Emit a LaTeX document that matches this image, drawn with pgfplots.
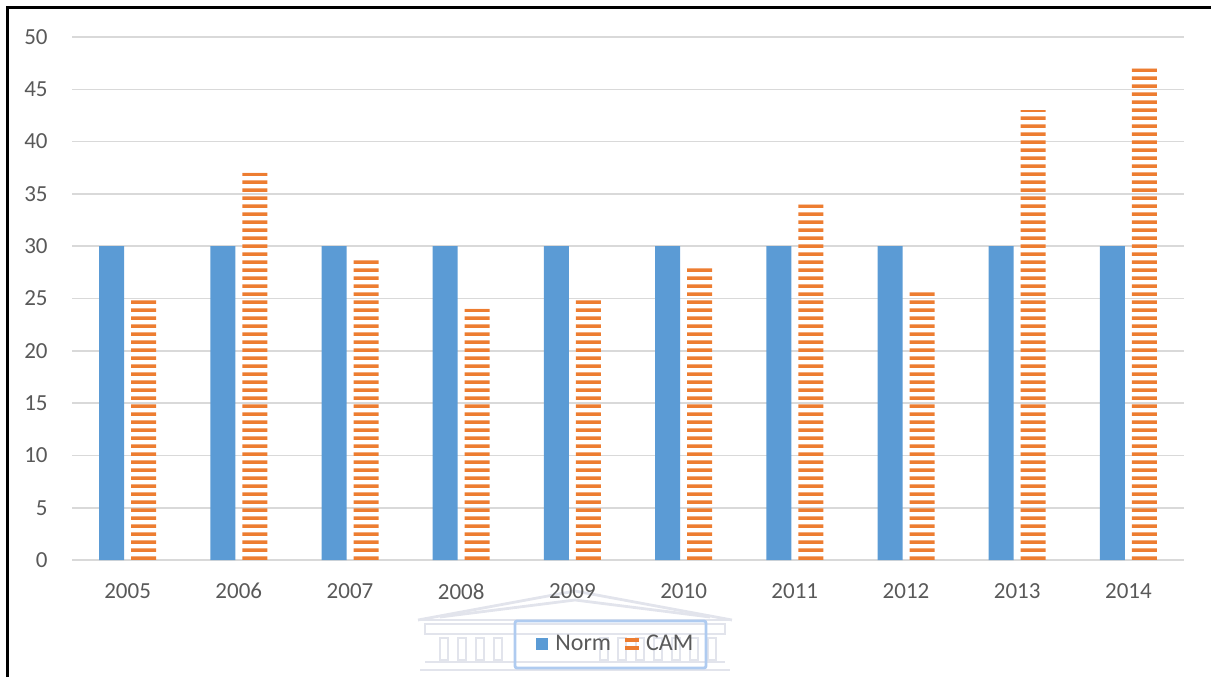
\documentclass[border=0pt]{standalone}
\usepackage{pgfplots}
\pgfplotsset{compat=1.18}
\usepackage{fontspec}
\setmainfont{Carlito}
\usetikzlibrary{patterns}
\definecolor{normblue}{RGB}{91,155,213}
\definecolor{camorange}{RGB}{237,125,49}
\definecolor{gridgrey}{RGB}{217,217,217}
\definecolor{txtgrey}{RGB}{89,89,89}
\definecolor{wmgrey}{RGB}{226,228,236}
\definecolor{lgblue}{RGB}{175,203,240}
\pgfdeclarepatternformonly{hstripes}{\pgfqpoint{0pt}{0pt}}{\pgfqpoint{55.6pt}{4.23pt}}{\pgfqpoint{55.6pt}{4.23pt}}{%
  \pgfpathrectangle{\pgfqpoint{0pt}{0pt}}{\pgfqpoint{55.6pt}{1.95pt}}\pgfusepath{fill}}
\pgfplotstableread{
x norm cam
0 30 25
1 30 37
2 30 29
3 30 24
4 30 25
5 30 28
6 30 34
7 30 26
8 30 43
9 30 47
}\datatable
\begin{document}
\begin{tikzpicture}
\useasboundingbox (0,0) rectangle (605.5pt,338.5pt);
\begin{scope}[x=0.5pt,y=-0.5pt,shift={(0,338.5pt)}]
  % frame
  \draw[black,line width=1.3pt] (7.5,677) -- (7.5,7.5) -- (1211,7.5);
  % faint watermark
  \begin{scope}[draw=wmgrey,line width=1.4pt]
    \draw (418,620) -- (575,591) -- (732,620);
    \draw (440,617) -- (575,600) -- (710,617);
    \draw (418,620) -- (732,620);
    \draw (425,624) rectangle (725,634);
    \foreach \cx in {440,458,476,494,600,618,636,654,672,690,708}{
      \draw (\cx,638) rectangle (\cx+8,660);
    }
    \draw (425,662) -- (725,662);
    \draw (420,670) -- (730,670);
  \end{scope}
  % legend box
  \draw[lgblue,line width=1.4pt,rounded corners=1pt] (515,621) rectangle (706,668);
\end{scope}
\begin{axis}[
  at={(36pt,58.5pt)}, anchor=south west,
  scale only axis, width=556pt, height=261.5pt,
  ymin=0, ymax=50, ytick={0,5,...,50},
  xmin=-0.5, xmax=9.5, xtick=data,
  xticklabels={2005,2006,2007,2008,2009,2010,2011,2012,2013,2014},
  axis line style={draw=none},
  major tick length=0pt,
  tick style={draw=none},
  ymajorgrids, grid style={gridgrey,line width=0.8pt},
  ticklabel style={font=\fontsize{11.5}{13}\selectfont, text=txtgrey},
  yticklabel style={anchor=east, inner sep=0pt, xshift=-12pt},
  xticklabel style={anchor=north, inner sep=0pt, yshift=-11.5pt},
  /pgf/number format/assume math mode=true,
  ybar, bar width=12.5pt,
  legend style={at={(0.490,-0.1606)}, anchor=center, draw=none, fill=none,
    legend columns=2, font=\fontsize{12}{14}\selectfont, text=txtgrey,
    /tikz/every odd column/.append style={column sep=1.5pt},
    /tikz/every even column/.append style={column sep=5pt}},
]
\addplot[fill=normblue, draw=none, bar shift=-8pt,
  legend image code/.code={\fill[normblue] (0pt,-3pt) rectangle (6pt,3pt);}]
  table[x=x,y=norm]{\datatable};
\addlegendentry{Norm}
\addplot[pattern=hstripes, pattern color=camorange, draw=none, bar shift=8pt,
  legend image code/.code={\fill[camorange] (0pt,1pt) rectangle (7pt,3pt); \fill[camorange] (0pt,-3pt) rectangle (7pt,-1pt);}]
  table[x=x,y=cam]{\datatable};
\addlegendentry{CAM}
\end{axis}
\end{tikzpicture}
\end{document}
